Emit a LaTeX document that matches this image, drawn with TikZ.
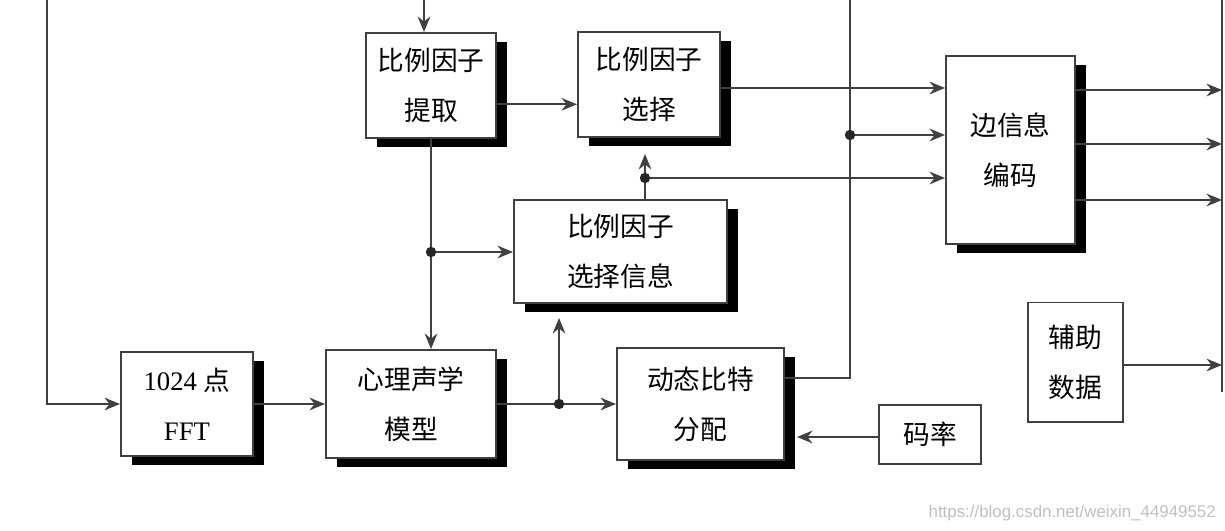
\documentclass[tikz,border=0pt]{standalone}
\usepackage{fontspec}
\setmainfont{Liberation Serif}
\newfontfamily\cjk{Noto Sans CJK SC}
\newfontfamily\wmfont{Liberation Sans}
\usetikzlibrary{arrows.meta,shadows}

\begin{document}
\begin{tikzpicture}[
  x=0.025cm, y=-0.025cm,
  blk/.style={draw=black!75, line width=1.4pt, fill=white, inner sep=0pt, align=center,
    font=\cjk\fontsize{19}{35.5}\selectfont},
  sblk/.style={blk, drop shadow={shadow xshift=0.28cm, shadow yshift=-0.22cm, fill=black, opacity=1}},
  link/.style={draw=black!75, line width=1.4pt},
  >={Stealth[length=11pt,width=9pt]}
]
\useasboundingbox (0,0) rectangle (1225,531);

% blocks
\node[sblk, minimum width=3.25cm, minimum height=2.625cm] (tiqu) at (431,85.5) {比例因子\\提取};
\node[sblk, minimum width=3.55cm, minimum height=2.625cm] (xuanze) at (649,84.5) {比例因子\\选择};
\node[sblk, minimum width=5.325cm, minimum height=2.575cm] (info) at (620.5,251.5) {比例因子\\选择信息};
\node[sblk, minimum width=3.225cm, minimum height=4.7cm] (bian) at (1010.5,150) {边信息\\编码};
\node[sblk, minimum width=3.3cm, minimum height=2.6cm, font=\rmfamily\fontsize{19}{35.5}\selectfont] (fft) at (187,404) {1024 {\cjk 点}\\FFT};
\node[sblk, minimum width=4.25cm, minimum height=2.7cm] (psy) at (411,404) {心理声学\\模型};
\node[sblk, minimum width=4.175cm, minimum height=2.8cm] (dyn) at (700.5,404) {动态比特\\分配};
\node[blk, minimum width=2.55cm, minimum height=1.475cm] (malv) at (930,434.5) {码率};
\node[blk, minimum width=2.375cm, minimum height=2.975cm] (fuzhu) at (1075.5,362) {辅助\\数据};

% free ends and branch points
\coordinate (ltop) at (47,0);
\coordinate (ttop) at (424,0);
\coordinate (vtop) at (850,0);
\coordinate (rtop) at (1222,0);
\coordinate (rbot) at (1222,392);
\coordinate (dotA) at (850,135);
\coordinate (dotB) at (645,178);
\coordinate (dotC) at (431,252);
\coordinate (dotD) at (559,404);

\draw[link, ->] (ltop) |- (fft.west);
\draw[link, ->] (ttop) -- (ttop |- tiqu.north);
\draw[link, ->] ([yshift=-0.47cm]tiqu.east) -- ([yshift=-0.47cm]tiqu.east -| xuanze.west);
\draw[link, ->] (tiqu.south) -- (tiqu.south |- psy.north);
\draw[link, ->] (dotC) -- (dotC -| info.west);
\draw[link, ->] (fft) -- (psy);
\draw[link, ->] (psy) -- (dyn);
\draw[link, ->, shorten >=0.35cm] (dotD) -- (dotD |- info.south);
\draw[link, ->, shorten >=0.3cm] (malv.west |- 0,437) -- (dyn.east |- 0,437);
\draw[link] ([yshift=0.65cm]dyn.east) -| (vtop);
\draw[link, ->] (xuanze.east |- 0,88) -- (bian.west |- 0,88);
\draw[link, ->] (dotA) -- (dotA -| bian.west);
\draw[link] (dotB |- info.north) -- (dotB);
\draw[link, ->, shorten >=0.4cm] (dotB) -- (dotB |- xuanze.south);
\draw[link, ->] (dotB) -- (dotB -| bian.west);
\draw[link] (rtop) -- (rbot);
\draw[link, ->] (bian.east |- 0,90) -- (rtop |- 0,90);
\draw[link, ->] (bian.east |- 0,144) -- (rtop |- 0,144);
\draw[link, ->] (bian.east |- 0,200) -- (rtop |- 0,200);
\draw[link, ->] (fuzhu.east |- 0,365) -- (rtop |- 0,365);

\foreach \d in {dotA,dotB,dotC,dotD}
  \fill[black!85] (\d) circle[radius=0.13cm];

\node[font=\wmfont\fontsize{12}{12}\selectfont, text=black!25, anchor=east, inner sep=0pt] (mark) at (1216,513) {https://blog.csdn.net/weixin\_44949552};
\end{tikzpicture}
\end{document}
